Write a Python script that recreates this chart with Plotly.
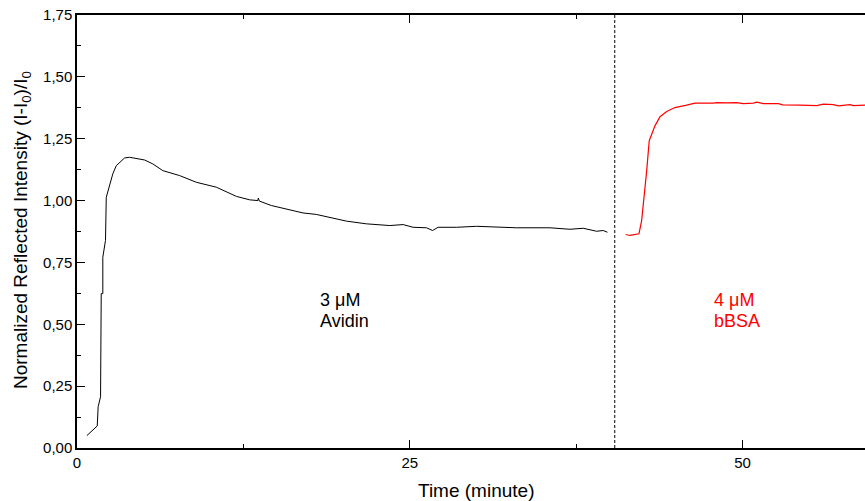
import plotly.graph_objects as go

# Avidin (black) trace
avidin_x = [0.74, 1.52, 1.59, 1.77, 1.82, 1.94, 1.94, 2.14, 2.20, 2.44, 2.69, 2.95, 3.57, 3.95,
            5.08, 5.70, 6.45, 7.71, 8.96, 10.47, 11.22, 11.97, 12.97, 13.59, 13.62, 13.70, 14.60,
            15.73, 16.98, 17.98, 19.11, 20.24, 21.74, 23.50, 24.50, 25.25, 26.26, 26.71, 27.13,
            28.51, 30.02, 31.52, 33.02, 35.53, 37.03, 38.03, 39.04, 39.53, 39.85]
avidin_y = [0.050, 0.089, 0.167, 0.207, 0.624, 0.624, 0.771, 0.839, 1.013, 1.060, 1.108, 1.141,
            1.172, 1.175, 1.164, 1.148, 1.121, 1.101, 1.074, 1.054, 1.034, 1.017, 1.003, 1.000,
            1.010, 0.998, 0.980, 0.967, 0.950, 0.944, 0.930, 0.917, 0.906, 0.899, 0.903, 0.892,
            0.890, 0.879, 0.892, 0.892, 0.896, 0.892, 0.890, 0.890, 0.884, 0.888, 0.876, 0.879,
            0.872]

# bBSA (red) trace
bbsa_x = [41.22, 41.54, 42.22, 42.42, 42.80, 42.99, 43.42, 43.80, 44.30, 44.92, 45.80, 46.43,
          47.80, 48.06, 48.81, 49.56, 50.06, 50.81, 51.07, 51.56, 52.69, 53.02, 54.32, 55.58,
          56.08, 56.83, 57.20, 58.08, 58.33, 59.21, 59.60]
bbsa_y = [0.863, 0.859, 0.866, 0.919, 1.121, 1.242, 1.302, 1.339, 1.360, 1.376, 1.386, 1.394,
          1.394, 1.396, 1.395, 1.396, 1.392, 1.394, 1.398, 1.392, 1.392, 1.387, 1.386, 1.384,
          1.390, 1.388, 1.383, 1.388, 1.384, 1.387, 1.386]

injection_time = 40.4
x_ticks = [0, 25, 50]
x_range = [0, 59.2]
y_range = [0, 1.75]

fig = go.Figure()
fig.add_trace(go.Scatter(x=avidin_x, y=avidin_y, mode="lines",
                         line=dict(color="black", width=1), showlegend=False))
fig.add_trace(go.Scatter(x=bbsa_x, y=bbsa_y, mode="lines",
                         line=dict(color="#ff0000", width=1.2), showlegend=False))
# invisible trace that activates the top (mirrored) axis
fig.add_trace(go.Scatter(x=[x_range[0]], y=[y_range[0]], xaxis="x2", mode="markers",
                         marker=dict(opacity=0), hoverinfo="skip", showlegend=False))

fig.add_shape(type="line", x0=injection_time, x1=injection_time, y0=0, y1=1,
              xref="x", yref="paper", line=dict(color="black", width=1, dash="3px,2px"))

font = "Liberation Sans"
axis_common = dict(showline=True, linecolor="black", linewidth=1.5, ticks="inside",
                   ticklen=8, tickwidth=1.2, tickcolor="black", showgrid=False, zeroline=False)
minor_x = dict(dtick=12.5, tick0=0, ticks="inside", ticklen=4, tickcolor="black", tickwidth=1)

fig.update_layout(
    width=865, height=501,
    margin=dict(l=77, r=0, t=15, b=53),
    paper_bgcolor="white", plot_bgcolor="white",
    separators=",.",
    font=dict(family=font, color="black"),
    xaxis=dict(range=x_range, tickvals=x_ticks, tickfont=dict(size=15, family=font),
               minor=minor_x, **axis_common),
    xaxis2=dict(range=x_range, overlaying="x", side="top", tickvals=x_ticks,
                showticklabels=False, minor=minor_x, **axis_common),
    yaxis=dict(range=y_range, dtick=0.25, tick0=0, tickformat=".2f",
               tickfont=dict(size=15, family=font),
               minor=dict(dtick=0.125, tick0=0, ticks="inside", ticklen=4, tickcolor="black",
                          tickwidth=1),
               **axis_common),
)

fig.add_annotation(text="Time (minute)", xref="paper", yref="paper",
                   x=(476 - 77) / 788, y=-(490.5 - 448) / 433, xanchor="center", yanchor="middle",
                   showarrow=False, font=dict(size=19, family=font))
fig.add_annotation(text="Normalized Reflected Intensity (I-I<sub>0</sub>)/I<sub>0</sub>",
                   xref="paper", yref="paper", x=-(77 - 22) / 788, y=(448 - 230) / 433,
                   xanchor="center", yanchor="middle", textangle=-90,
                   showarrow=False, font=dict(size=19, family=font))

labels = [("3 \u03bcM", "Avidin", 18.1, "black"), ("4 \u03bcM", "bBSA", 47.7, "#ff0000")]
for line1, line2, lx, col in labels:
    fig.add_annotation(text=line1, x=lx, y=0.597, xanchor="left", yanchor="middle",
                       showarrow=False, font=dict(size=18, color=col, family=font))
    fig.add_annotation(text=line2, x=lx, y=0.512, xanchor="left", yanchor="middle",
                       showarrow=False, font=dict(size=18, color=col, family=font))

fig.write_html("out.html")
